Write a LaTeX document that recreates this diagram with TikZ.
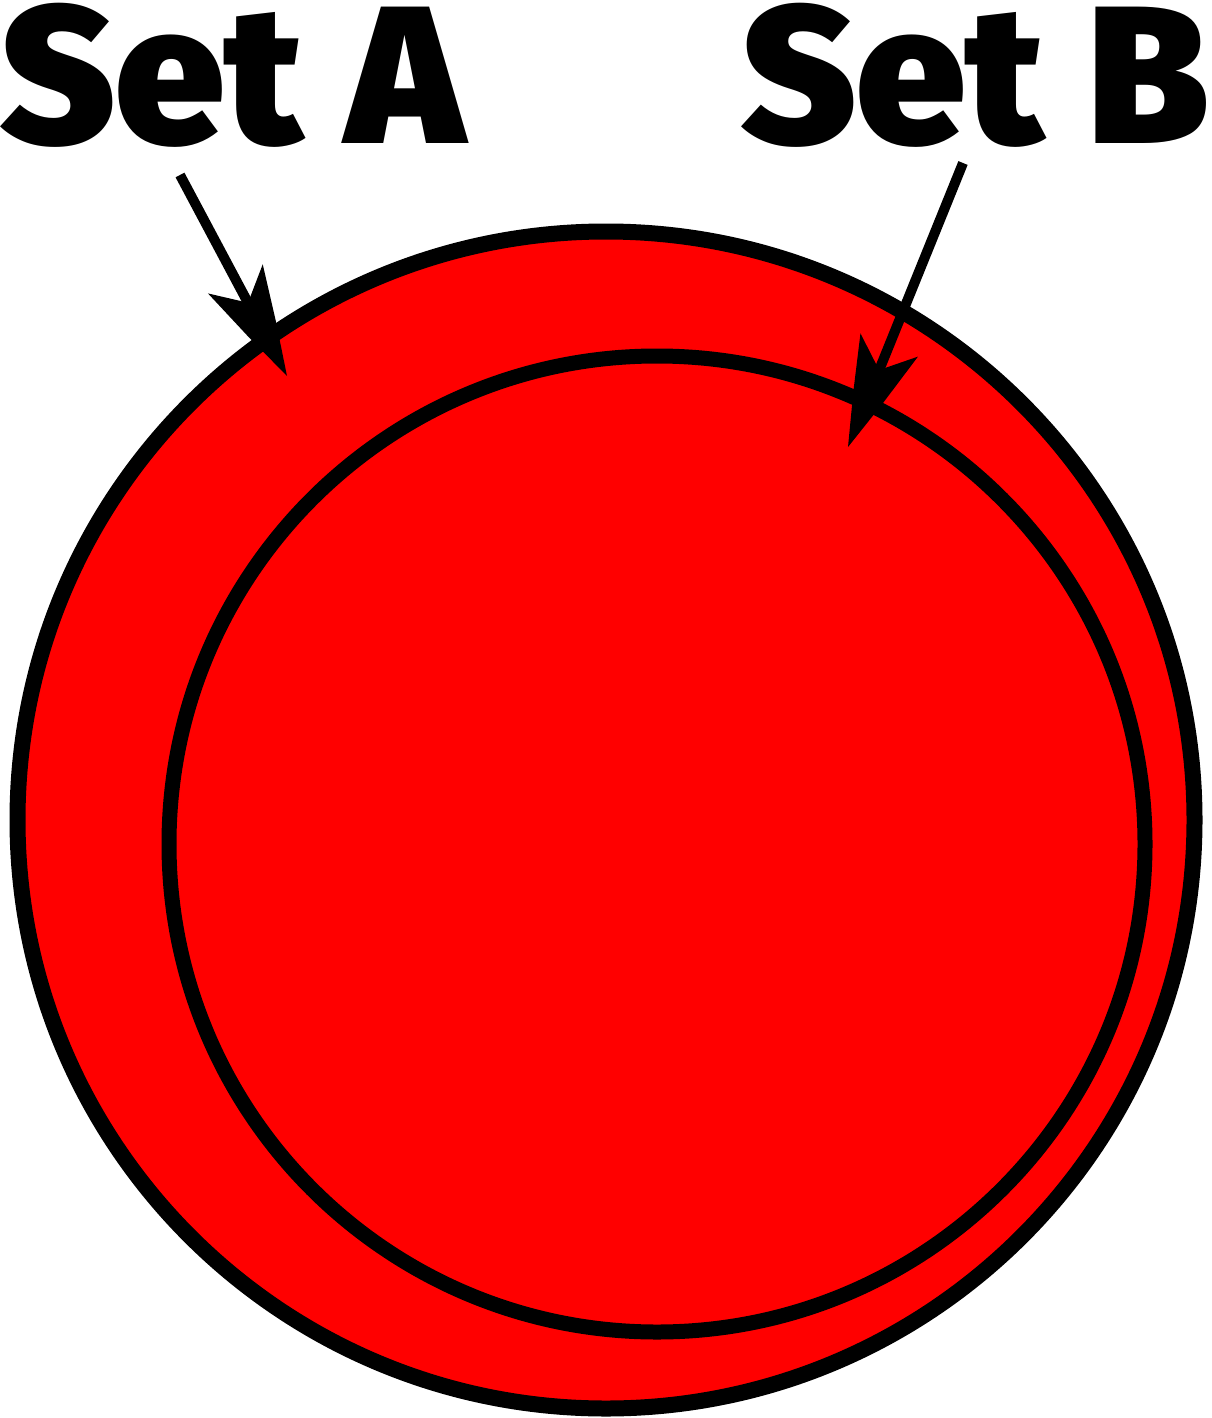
\documentclass[tikz,border=0pt]{standalone}
\usepackage{fontspec}
\newfontfamily\heavyfont{Fira Sans Black}
\tikzset{
  setcircle/.style={draw=black, fill=red},
  label/.style={inner sep=0pt, anchor=base west, font=\heavyfont\fontsize{196}{196}\selectfont},
  pointer/.style={draw=black, line width=10pt, line cap=butt, shorten >=80pt},
  pics/starhead/.style={code={
    \fill[black] (0pt,0pt) -- (-54pt,16pt) -- (-110pt,31pt) -- (-83pt,0pt)
      -- (-110pt,-31pt) -- (-54pt,-16pt) -- cycle;}}
}
\begin{document}
\begin{tikzpicture}[x=1pt,y=-1pt]
\useasboundingbox (0,0) rectangle (1211,1418);
\path[setcircle, line width=16pt] (606,820) circle[radius=588.5pt];
\path[setcircle, line width=15pt] (657,844) circle[radius=488pt];
\node[label] (setA) at (0,143) {Set A};
\node[label] (setB) at (741,143) {Set B};
\coordinate (startA) at (180,175);
\coordinate (tipA) at (287,376);
\coordinate (startB) at (963,163);
\coordinate (tipB) at (848,447);
\draw[pointer] (startA) -- (tipA);
\draw[pointer] (startB) -- (tipB);
\pic[rotate=-62.0] at (tipA) {starhead};
\pic[rotate=-112.0] at (tipB) {starhead};
\end{tikzpicture}
\end{document}
